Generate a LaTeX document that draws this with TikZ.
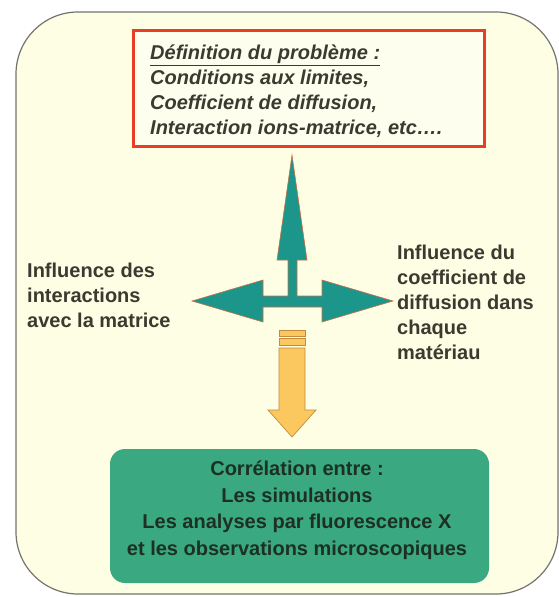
\documentclass[tikz,border=0pt]{standalone}
\usepackage{fontspec}
\setmainfont{Liberation Sans}
\usepackage{xcolor}
\definecolor{framecream}{RGB}{254,254,228}
\definecolor{framegrey}{RGB}{115,115,110}
\definecolor{problemred}{RGB}{232,62,40}
\definecolor{inktext}{RGB}{58,58,48}
\definecolor{crossteal}{RGB}{28,150,138}
\definecolor{crossedge}{RGB}{205,110,70}
\definecolor{downorange}{RGB}{250,200,95}
\definecolor{downedge}{RGB}{195,140,60}
\definecolor{resultgreen}{RGB}{58,168,128}
\definecolor{resultink}{RGB}{28,48,36}

\tikzset{
  bigtext/.style={font=\bfseries\fontsize{20}{25}\selectfont, text=inktext, inner sep=0pt, align=left}
}

\begin{document}
\begin{tikzpicture}[x=1pt, y=-1pt]
\useasboundingbox (0,0) rectangle (559,597);
\draw [framegrey, fill=framecream, line width=1.2pt, rounded corners=62pt] (16,12) rectangle (558,594);

\draw [problemred, line width=3pt, fill=framecream!60!white] (133,30) rectangle (484,146);
\node [bigtext, font=\bfseries\itshape\fontsize{20}{25}\selectfont, anchor=north west] (problem) at (150,45)
  {\underline{Définition du problème :}\\Conditions aux limites,\\Coefficient de diffusion,\\Interaction ions-matrice, etc….};

\filldraw [fill=crossteal, draw=crossedge, line width=0.6pt]
  (292,155) -- (307,260) -- (297,260) -- (297,296) -- (322,296) -- (322,280) -- (393,301)
  -- (322,322) -- (322,307) -- (263,307) -- (263,322) -- (192,301) -- (263,280) -- (263,296)
  -- (288,296) -- (288,260) -- (277,260) -- cycle;

\node [bigtext, anchor=north west] (matrix) at (27,263) {Influence des\\interactions\\avec la matrice};
\node [bigtext, anchor=north west] (material) at (397,245) {Influence du\\coefficient de\\diffusion dans\\chaque\\matériau};

\filldraw [fill=downorange, draw=downedge, line width=0.7pt] (279,330) rectangle (305,336);
\filldraw [fill=downorange, draw=downedge, line width=0.7pt] (279,338) rectangle (305,345);
\filldraw [fill=downorange, draw=downedge, line width=0.7pt]
  (279,348) -- (305,348) -- (305,410) -- (316,410) -- (292,437) -- (268,410) -- (279,410) -- cycle;

\fill [resultgreen, rounded corners=15pt] (110,449) rectangle (489,583);
\node [bigtext, text=resultink, align=center, font=\bfseries\fontsize{20}{26.5}\selectfont, anchor=north] (result) at (297,461)
  {Corrélation entre :\\Les simulations\\Les analyses par fluorescence X\\et les observations microscopiques};

\end{tikzpicture}
\end{document}
